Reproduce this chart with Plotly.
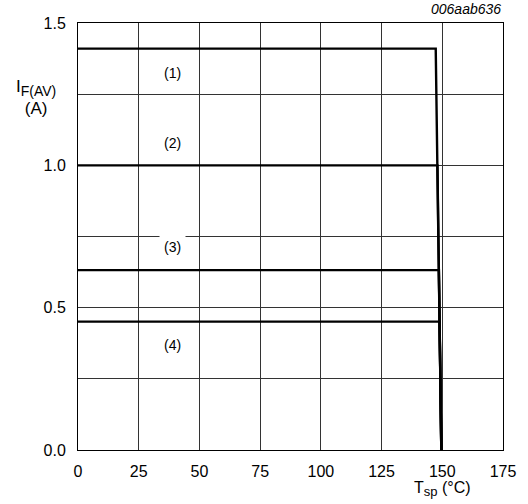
import plotly.graph_objects as go

# Derating curves: forward current vs solder point temperature
curve_names = ["(1)", "(2)", "(3)", "(4)"]
current_levels = [1.41, 1.0, 0.632, 0.451]     # A, flat part of each curve
knee_temps = [147.3, 148.0, 148.6, 148.9]      # °C, where each curve starts to fall
t_start = 0.0
t_end = 149.6                                  # °C, where current reaches zero
i_end = 0.0

label_x = [39, 39, 39, 39]
label_y = [1.324, 1.078, 0.714, 0.369]

x_ticks = [0, 25, 50, 75, 100, 125, 150, 175]
y_ticks = [0.0, 0.5, 1.0, 1.5]
y_tick_text = ["0.0", "0.5", "1.0", "1.5"]

FONT = "Liberation Sans, Arial, Helvetica, sans-serif"

fig = go.Figure()
for name, lvl, knee in zip(curve_names, current_levels, knee_temps):
    fig.add_trace(go.Scatter(
        x=[t_start, knee, t_end],
        y=[lvl, lvl, i_end],
        mode="lines",
        line=dict(color="black", width=2.4),
        name=name,
        showlegend=False,
        hoverinfo="skip",
    ))

for name, lx, ly in zip(curve_names, label_x, label_y):
    fig.add_annotation(
        x=lx, y=ly, xref="x", yref="y", text=name, showarrow=False,
        font=dict(family=FONT, size=14, color="black"),
        bgcolor="white", borderpad=4,
    )

fig.add_annotation(
    xref="paper", yref="paper", x=-0.1, y=0.826, xanchor="center", yanchor="middle",
    text="I<sub><span style='font-size:14px'>F(AV)</span></sub><br>(A)",
    showarrow=False, align="center",
    font=dict(family=FONT, size=17, color="black"),
)
fig.add_annotation(
    xref="x", yref="paper", x=150, y=-0.064, xanchor="center", yanchor="top",
    text="T<sub><span style='font-size:13px'>sp</span></sub> (°C)", showarrow=False,
    font=dict(family=FONT, size=16, color="black"),
)
fig.add_annotation(
    xref="paper", yref="paper", x=1.0, y=1.01, xanchor="right", yanchor="bottom",
    text="<i>006aab636</i>", showarrow=False,
    font=dict(family=FONT, size=14, color="black"),
)

fig.update_xaxes(
    range=[0, 175], tickvals=x_ticks, ticktext=[str(v) for v in x_ticks],
    showgrid=True, gridcolor="#333333", gridwidth=1,
    showline=True, linecolor="black", linewidth=1, mirror=True,
    ticks="", zeroline=False, ticklabelstandoff=7,
    tickfont=dict(family=FONT, size=16, color="black"),
)
fig.update_yaxes(
    range=[0, 1.5], tickvals=y_ticks, ticktext=y_tick_text,
    showgrid=True, gridcolor="#333333", gridwidth=1,
    minor=dict(dtick=0.25, showgrid=True, gridcolor="#333333", gridwidth=1),
    showline=True, linecolor="black", linewidth=1, mirror=True,
    ticks="", zeroline=False, ticklabelstandoff=8,
    tickfont=dict(family=FONT, size=16, color="black"),
)

fig.update_layout(
    width=528, height=504,
    margin=dict(l=78, r=22, t=23, b=54),
    paper_bgcolor="white", plot_bgcolor="white",
)

fig.write_html("out.html")
